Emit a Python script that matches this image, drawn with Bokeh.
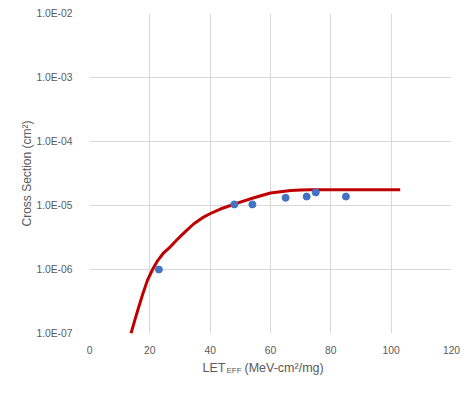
from bokeh.plotting import figure
from bokeh.models import FixedTicker, CustomJSTickFormatter, Label
from bokeh.embed import file_html
from bokeh.resources import INLINE

# measured data points
let_pts = [23, 48, 54, 65, 72, 75, 85]
xs_pts = [1.0e-6, 1.04e-5, 1.04e-5, 1.32e-5, 1.38e-5, 1.6e-5, 1.38e-5]

# fitted curve
let_fit = [13.75, 14.95, 16.3, 17.6, 19.2, 20.9, 22.6, 24.4, 26.8, 29.0, 31.5, 34.6,
           37.5, 40.1, 43.4, 46.7, 50.5, 54.5, 60.0, 63.3, 66.7, 70.0, 73.3, 77.0,
           85.0, 103.0]
xs_fit = [1.0e-7, 1.58e-7, 2.57e-7, 4.07e-7, 6.76e-7, 1.0e-6, 1.38e-6, 1.78e-6,
          2.26e-6, 2.92e-6, 3.8e-6, 5.19e-6, 6.46e-6, 7.5e-6, 8.81e-6, 1.0e-5,
          1.15e-5, 1.32e-5, 1.57e-5, 1.64e-5, 1.71e-5, 1.74e-5, 1.76e-5, 1.76e-5,
          1.76e-5, 1.76e-5]

x_ticks = [0, 20, 40, 60, 80, 100, 120]
y_ticks = [1e-7, 1e-6, 1e-5, 1e-4, 1e-3, 1e-2]

FONT = "Liberation Sans"
GREY = "#595959"

p = figure(width=466, height=385, output_backend="svg", toolbar_location=None,
           title=None,
           y_axis_type="log", x_range=(0, 120), y_range=(1e-7, 1e-2),
           min_border_left=89, min_border_right=15, min_border_top=13,
           min_border_bottom=52)
p.outline_line_color = None

p.xaxis.ticker = FixedTicker(ticks=x_ticks)
p.yaxis.ticker = FixedTicker(ticks=y_ticks)
p.yaxis.formatter = CustomJSTickFormatter(code="""
const s = tick.toExponential(1).split('e');
const e = parseInt(s[1]);
return s[0] + 'E' + (e < 0 ? '-' : '+') + String(Math.abs(e)).padStart(2, '0');
""")
for ax in (p.xaxis, p.yaxis):
    ax.major_tick_line_color = None
    ax.minor_tick_line_color = None
    ax.axis_line_color = None
    ax.major_label_text_font = FONT
    ax.major_label_text_font_size = "10.3px"
    ax.major_label_text_color = GREY
p.xaxis.major_label_standoff = 6
p.yaxis.major_label_standoff = 11

p.yaxis.axis_label = "Cross Section (cm²)"
p.yaxis.axis_label_text_font = FONT
p.yaxis.axis_label_text_font_size = "12px"
p.yaxis.axis_label_text_font_style = "normal"
p.yaxis.axis_label_text_color = GREY
p.yaxis.axis_label_standoff = -1

p.xgrid.grid_line_color = "#d9d9d9"
p.ygrid.grid_line_color = "#d9d9d9"
p.xgrid.ticker = FixedTicker(ticks=x_ticks)
p.ygrid.ticker = FixedTicker(ticks=y_ticks)

p.line(let_fit, xs_fit, line_color="#C00000", line_width=3, line_join="round")
p.scatter(let_pts, xs_pts, size=7, fill_color="#4472C4", line_color="#4472C4")

# x axis title: LET with subscript EFF (labels in side panels, screen units)
p.add_layout(Label(x=136, y=2.5, x_units="screen", y_units="screen", text="LET",
                   text_align="right", text_baseline="middle",
                   text_font=FONT, text_font_size="12.5px", text_color=GREY), "below")
p.add_layout(Label(x=155, y=16.5, x_units="screen", y_units="screen", text="(MeV-cm²/mg)",
                   text_align="left", text_baseline="middle",
                   text_font=FONT, text_font_size="12.5px", text_color=GREY), "below")
p.add_layout(Label(x=137, y=-356.5, x_units="screen", y_units="screen", text="EFF",
                   text_align="left", text_baseline="middle",
                   text_font=FONT, text_font_size="8px", text_color=GREY), "above")

open("out.html", "w").write(file_html(p, INLINE))
